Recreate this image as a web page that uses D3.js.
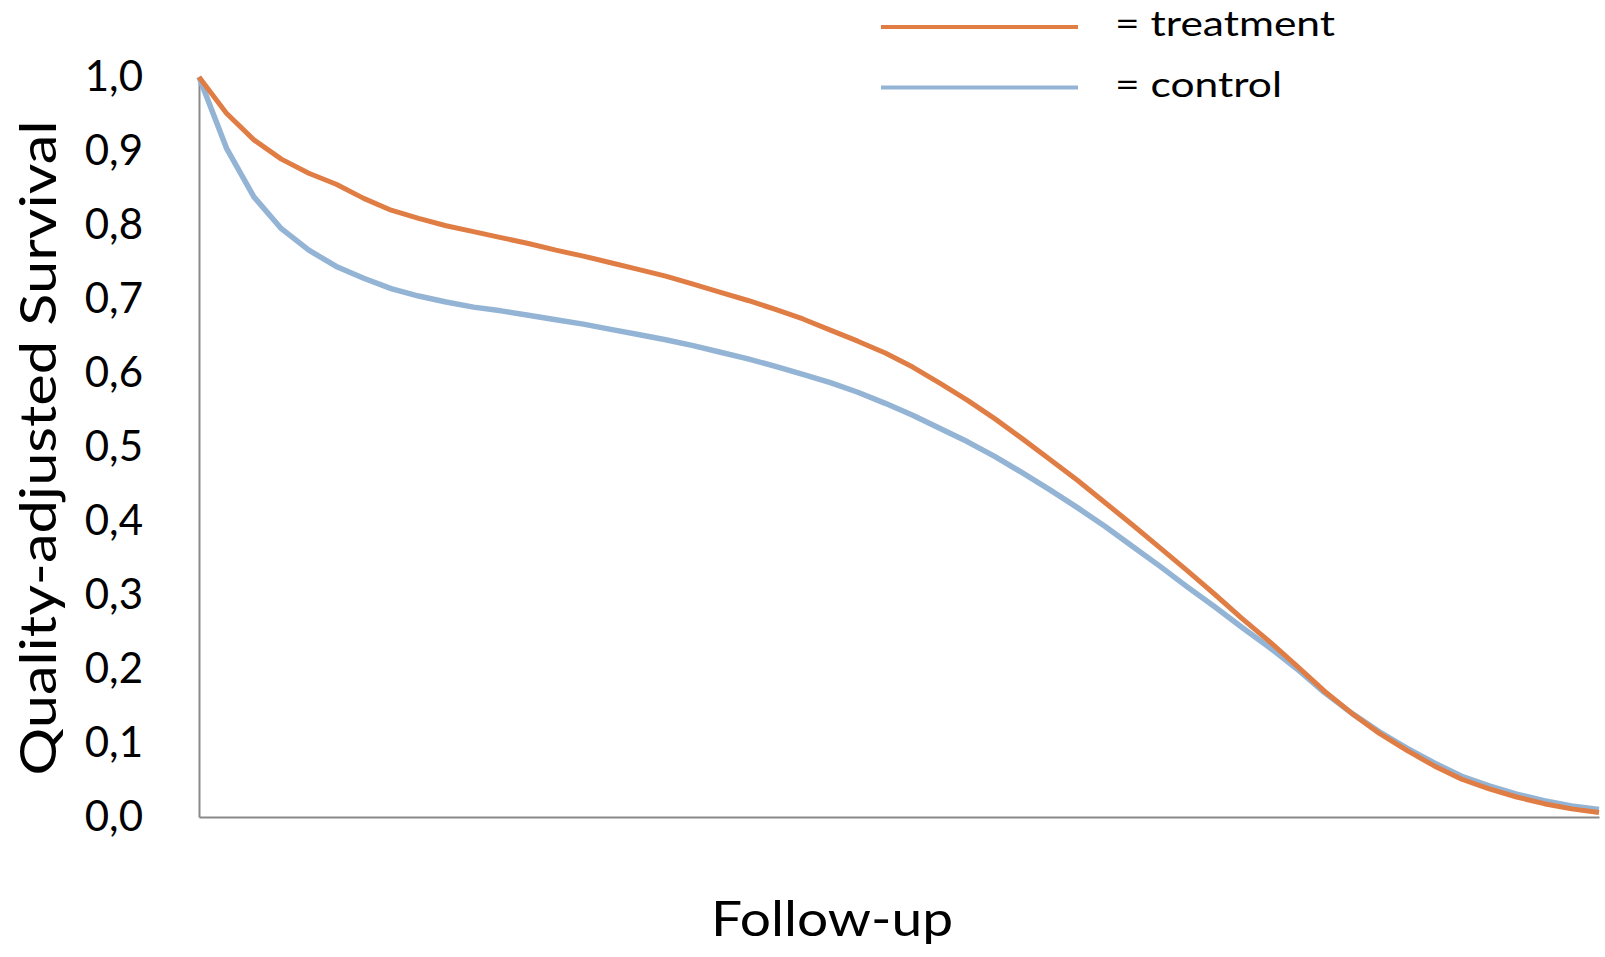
<!DOCTYPE html>
<html>
<head>
<meta charset="utf-8">
<script src="https://cdn.jsdelivr.net/npm/d3@7"></script>
<style>
  body { margin: 0; background: #fff; }
  text { font-family: Lato, "Open Sans", sans-serif; fill: #000; }
</style>
</head>
<body>
<div id="chart"></div>
<script>
var width = 1605
var height = 957
var padding = { top: 77, right: 5, bottom: 140, left: 199 };

// follow-up points (equally spaced, no labels on the x axis)
var followUp = d3.range(0, 52);
var treatment = [1.000, 0.951, 0.915, 0.889, 0.870, 0.855, 0.836, 0.820, 0.809, 0.799,
    0.791, 0.783, 0.775, 0.766, 0.758, 0.749, 0.740, 0.731, 0.720, 0.709,
    0.698, 0.686, 0.673, 0.658, 0.643, 0.627, 0.608, 0.586, 0.563, 0.538,
    0.511, 0.483, 0.455, 0.425, 0.395, 0.364, 0.333, 0.301, 0.268, 0.237,
    0.204, 0.170, 0.140, 0.113, 0.090, 0.069, 0.051, 0.038, 0.027, 0.018,
    0.011, 0.006];
var control = [1.000, 0.904, 0.838, 0.795, 0.766, 0.744, 0.728, 0.714, 0.704, 0.696,
    0.689, 0.684, 0.678, 0.672, 0.666, 0.659, 0.652, 0.645, 0.637, 0.628,
    0.619, 0.609, 0.598, 0.587, 0.574, 0.559, 0.543, 0.525, 0.507, 0.487,
    0.465, 0.442, 0.418, 0.393, 0.366, 0.339, 0.311, 0.284, 0.256, 0.229,
    0.200, 0.168, 0.140, 0.115, 0.093, 0.073, 0.055, 0.042, 0.031, 0.022,
    0.015, 0.010];
var yTicks = [0, 0.1, 0.2, 0.3, 0.4, 0.5, 0.6, 0.7, 0.8, 0.9, 1.0];
var yTickLabels = ["0,0", "0,1", "0,2", "0,3", "0,4", "0,5", "0,6", "0,7", "0,8", "0,9", "1,0"];
var seriesNames = ["= treatment", "= control"];
var seriesColors = ["#e07d45", "#93b4d4"];
var legendTextWidths = [220, 167];

var svg = d3.select('#chart')
    .append("svg")
    .attr('width', width)
    .attr('height', height);

var chartWidth = width - padding.left - padding.right;
var chartHeight = height - padding.top - padding.bottom;

var g = svg.append("g")
    .attr("transform", "translate(" + padding.left + "," + padding.top + ")");

var xScale = d3.scaleLinear()
    .domain([0, followUp.length - 1])
    .range([0, chartWidth - 1]);
var yScale = d3.scaleLinear()
    .domain([0, 1])
    .range([chartHeight, 0]);

// axes
var yAxis = g.append("g")
    .attr("class", "y-axis")
    .call(d3.axisLeft(yScale)
        .tickValues(yTicks)
        .tickFormat(function(d, i) { return yTickLabels[i]; })
        .tickSize(0)
        .tickPadding(56));
yAxis.select(".domain").attr("stroke", "#898989").attr("stroke-width", 2);
yAxis.selectAll("text")
    .style("font-size", "42px")
    .attr("fill", "#000");

var xAxis = g.append("g")
    .attr("class", "x-axis")
    .attr("transform", "translate(0," + chartHeight + ")")
    .call(d3.axisBottom(xScale).tickValues([]).tickSizeOuter(0));
xAxis.select(".domain").attr("stroke", "#898989").attr("stroke-width", 2);

// lines
var line = d3.line()
    .x(function(d, i) { return xScale(followUp[i]); })
    .y(function(d) { return yScale(d); });

g.append("path")
    .datum(control)
    .attr("fill", "none")
    .attr("stroke", seriesColors[1])
    .attr("stroke-width", 5.5)
    .attr("stroke-linejoin", "round")
    .attr("d", line);

g.append("path")
    .datum(treatment)
    .attr("fill", "none")
    .attr("stroke", seriesColors[0])
    .attr("stroke-width", 5)
    .attr("stroke-linejoin", "round")
    .attr("d", line);

// legend
var legend = svg.selectAll(".legend")
    .data(seriesNames)
    .enter().append("g")
    .attr("class", "legend")
    .attr("transform", function(d, i) { return "translate(881," + (27 + i * 60.5) + ")"; });

legend.append("line")
    .attr("x1", 0)
    .attr("x2", 197)
    .attr("stroke", function(d, i) { return seriesColors[i]; })
    .attr("stroke-width", 4);

legend.append("text")
    .attr("x", 234)
    .attr("y", 9)
    .attr("textLength", function(d, i) { return legendTextWidths[i]; })
    .attr("lengthAdjust", "spacingAndGlyphs")
    .style("font-size", "34px")
    .text(function(d) { return d; });

// axis titles
svg.append("text")
    .attr("transform", "translate(56,448) rotate(-90)")
    .attr("text-anchor", "middle")
    .attr("textLength", 655)
    .attr("lengthAdjust", "spacingAndGlyphs")
    .style("font-size", "50px")
    .text("Quality-adjusted Survival");

svg.append("text")
    .attr("x", 832)
    .attr("y", 936)
    .attr("text-anchor", "middle")
    .attr("textLength", 242)
    .attr("lengthAdjust", "spacingAndGlyphs")
    .style("font-size", "48px")
    .text("Follow-up");
</script>
</body>
</html>
